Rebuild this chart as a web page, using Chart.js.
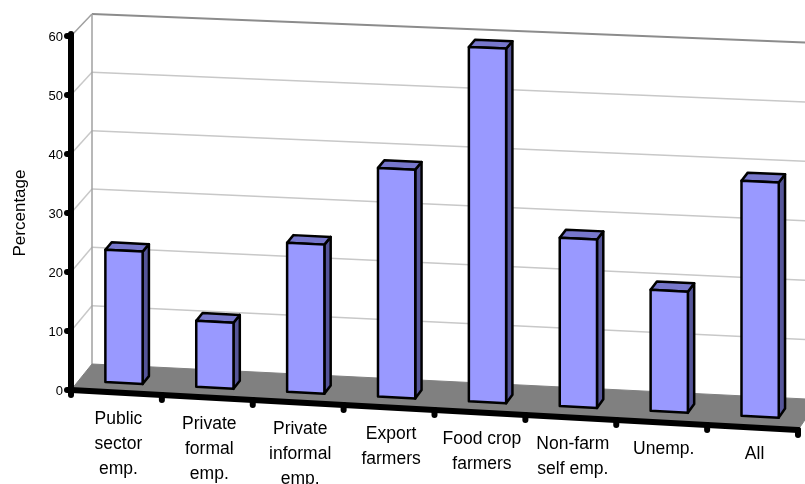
<!DOCTYPE html>
<html lang="en">
<head>
<meta charset="UTF-8">
<title>Percentage</title>
<script src="https://cdn.jsdelivr.net/npm/chart.js@4.4.0/dist/chart.umd.min.js"></script>
<style>
  body { margin: 0; background: #fff; }
</style>
</head>
<body>
<canvas id="grafico" width="805" height="484"></canvas>
<script>
// dados
var categorias = [['Public', 'sector', 'emp.'], ['Private', 'formal', 'emp.'], ['Private', 'informal', 'emp.'],
    ['Export', 'farmers'], ['Food crop', 'farmers'], ['Non-farm', 'self emp.'], ['Unemp.'], ['All']];
var valores = [22.5, 11.2, 25.2, 38.6, 59.7, 28.3, 20.3, 39.3];
var marcasY = [0, 10, 20, 30, 40, 50, 60];
var tituloY = 'Percentage';

var fonte = 'Arial, "Liberation Sans", sans-serif';

// projecao "3D": plano da frente -> tela (d = profundidade 0..1)
function proj(chart, xf, yv, d) {
    var a = chart.chartArea;
    var f = (a.bottom - yv) / (a.bottom - a.top);
    var dy = -26 + 4 * f;
    var sF = 0.055 - 0.009 * f;
    var sB = 0.049 - 0.009 * f;
    var s = sF + (sB - sF) * d;
    return [xf + d * 21, yv + d * dy + s * (xf - a.left)];
}

function linha(ctx, p1, p2) {
    ctx.beginPath();
    ctx.moveTo(p1[0], p1[1]);
    ctx.lineTo(p2[0], p2[1]);
    ctx.stroke();
}

function poligono(ctx, pts, cor) {
    ctx.beginPath();
    ctx.moveTo(pts[0][0], pts[0][1]);
    for (var i = 1; i < pts.length; i++) ctx.lineTo(pts[i][0], pts[i][1]);
    ctx.closePath();
    ctx.fillStyle = cor;
    ctx.fill();
    ctx.stroke();
}

var plugin3d = {
    id: 'plugin3d',
    beforeDraw: function (chart) {
        var ctx = chart.ctx;
        ctx.save();
        ctx.fillStyle = '#ffffff';
        ctx.fillRect(0, 0, chart.width, chart.height);
        ctx.restore();
    },
    beforeDatasetsDraw: function (chart) {
        var ctx = chart.ctx, a = chart.chartArea, ys = chart.scales.y;
        ctx.save();
        ctx.lineCap = 'butt';
        // grades da parede lateral e do fundo
        ctx.strokeStyle = '#c8c8c8';
        ctx.lineWidth = 1.5;
        for (var i = 1; i < marcasY.length - 1; i++) {
            var yv = ys.getPixelForValue(marcasY[i]);
            linha(ctx, proj(chart, a.left, yv, 0), proj(chart, a.left, yv, 1));
            linha(ctx, proj(chart, a.left, yv, 1), proj(chart, a.right, yv, 1));
        }
        ctx.strokeStyle = '#8c8c8c';
        ctx.lineWidth = 2;
        linha(ctx, proj(chart, a.left, a.top, 1), proj(chart, a.right, a.top, 1));
        ctx.strokeStyle = '#a0a0a0';
        ctx.lineWidth = 1.5;
        linha(ctx, proj(chart, a.left, a.top, 0), proj(chart, a.left, a.top, 1));
        linha(ctx, proj(chart, a.left, a.bottom, 1), proj(chart, a.left, a.top, 1));
        // chao
        ctx.strokeStyle = '#808080';
        ctx.lineWidth = 1;
        poligono(ctx, [proj(chart, a.left, a.bottom, 0), proj(chart, a.right, a.bottom, 0),
            proj(chart, a.right, a.bottom, 1), proj(chart, a.left, a.bottom, 1)], '#808080');
        ctx.restore();
    },
    afterDatasetsDraw: function (chart) {
        var ctx = chart.ctx, a = chart.chartArea, xs = chart.scales.x, ys = chart.scales.y;
        var d0 = 0.36, d1 = 0.66;
        ctx.save();
        ctx.strokeStyle = '#000000';
        ctx.lineWidth = 2.5;
        ctx.lineJoin = 'round';
        chart.getDatasetMeta(0).data.forEach(function (el) {
            var p = el.getProps(['x', 'y', 'base', 'width'], true);
            var xl = p.x - p.width / 2, xr = p.x + p.width / 2;
            poligono(ctx, [proj(chart, xr, p.y, d0), proj(chart, xr, p.y, d1),
                proj(chart, xr, p.base, d1), proj(chart, xr, p.base, d0)], '#555599');
            poligono(ctx, [proj(chart, xl, p.y, d0), proj(chart, xr, p.y, d0),
                proj(chart, xr, p.y, d1), proj(chart, xl, p.y, d1)], '#7777cc');
            poligono(ctx, [proj(chart, xl, p.y, d0), proj(chart, xr, p.y, d0),
                proj(chart, xr, p.base, d0), proj(chart, xl, p.base, d0)], '#9999ff');
        });

        // eixos
        ctx.lineCap = 'round';
        ctx.lineWidth = 6;
        linha(ctx, proj(chart, a.left, a.bottom, 0), proj(chart, a.right, a.bottom, 0));
        linha(ctx, proj(chart, a.left, a.bottom, 0), proj(chart, a.left, a.top - 2, 0));
        var n = categorias.length;
        for (var i = 0; i <= n; i++) {
            var pt = proj(chart, a.left + i * (a.right - a.left) / n, a.bottom, 0);
            linha(ctx, pt, [pt[0], pt[1] + 5]);
        }
        ctx.fillStyle = '#000000';
        ctx.font = '13px ' + fonte;
        ctx.textAlign = 'right';
        ctx.textBaseline = 'middle';
        marcasY.forEach(function (v) {
            var pt = proj(chart, a.left, ys.getPixelForValue(v), 0);
            linha(ctx, pt, [pt[0] - 4, pt[1]]);
            ctx.fillText(String(v), pt[0] - 8, pt[1] + 1);
        });

        // rotulos
        ctx.font = '17.5px ' + fonte;
        ctx.textAlign = 'center';
        categorias.forEach(function (linhas, i) {
            var xf = xs.getPixelForValue(i);
            var pt = proj(chart, xf, a.bottom, 0);
            linhas.forEach(function (txt, j) {
                ctx.fillText(txt, xf + 2, pt[1] + 27 + j * 25);
            });
        });
        ctx.save();
        ctx.translate(20, 213);
        ctx.rotate(-Math.PI / 2);
        ctx.font = '17px ' + fonte;
        ctx.fillText(tituloY, 0, 0);
        ctx.restore();
        ctx.restore();
    }
};

var ctx = document.getElementById('grafico').getContext('2d');
var grafico = new Chart(ctx, {
    type: 'bar',
    data: {
        labels: categorias,
        datasets: [{
            label: tituloY,
            data: valores,
            backgroundColor: 'rgba(0,0,0,0)',
            borderWidth: 0,
            barPercentage: 0.41,
            categoryPercentage: 1
        }]
    },
    options: {
        responsive: false,
        animation: false,
        devicePixelRatio: 1,
        layout: { padding: { left: 71, right: 7, top: 36, bottom: 94 } },
        plugins: { legend: { display: false }, tooltip: { enabled: false } },
        scales: {
            x: { display: false, offset: true },
            y: { display: false, min: 0, max: 60, ticks: { stepSize: 10 } }
        }
    },
    plugins: [plugin3d]
});
</script>
</body>
</html>
